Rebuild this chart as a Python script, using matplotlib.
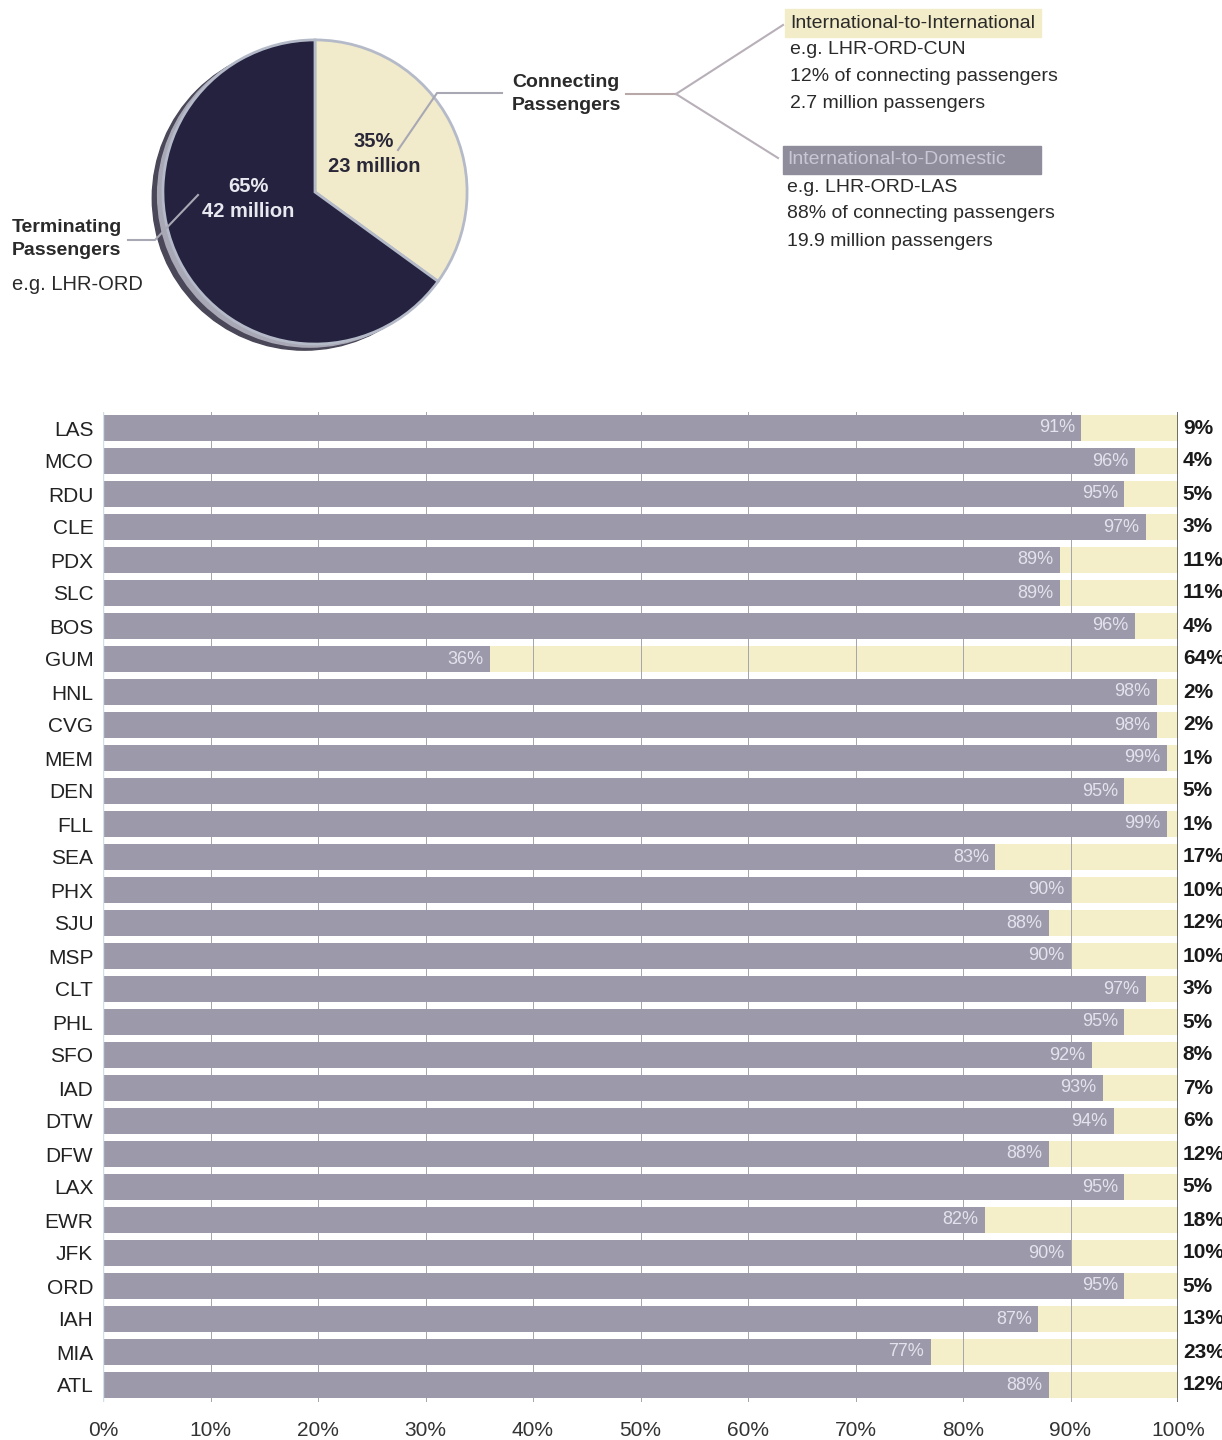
import matplotlib
matplotlib.use("Agg")
import matplotlib.pyplot as plt
from matplotlib import font_manager
from matplotlib.patches import Circle, Rectangle
import numpy as np

# ---- data ----
airports = ["LAS", "MCO", "RDU", "CLE", "PDX", "SLC", "BOS", "GUM", "HNL", "CVG",
            "MEM", "DEN", "FLL", "SEA", "PHX", "SJU", "MSP", "CLT", "PHL", "SFO",
            "IAD", "DTW", "DFW", "LAX", "EWR", "JFK", "ORD", "IAH", "MIA", "ATL"]
intl_to_dom = [91, 96, 95, 97, 89, 89, 96, 36, 98, 98,
               99, 95, 99, 83, 90, 88, 90, 97, 95, 92,
               93, 94, 88, 95, 82, 90, 95, 87, 77, 88]
intl_to_intl = [9, 4, 5, 3, 11, 11, 4, 64, 2, 2,
                1, 5, 1, 17, 10, 12, 10, 3, 5, 8,
                7, 6, 12, 5, 18, 10, 5, 13, 23, 12]
xticks = [0, 10, 20, 30, 40, 50, 60, 70, 80, 90, 100]

pie_values = [35, 65]          # connecting, terminating
pie_labels = ["35%\n23 million", "65%\n42 million"]

intl_lines = ["e.g. LHR-ORD-CUN", "12% of connecting passengers", "2.7 million passengers"]
dom_lines = ["e.g. LHR-ORD-LAS", "88% of connecting passengers", "19.9 million passengers"]

GRAY = "#9c99aa"
BEIGE = "#f4eec9"
NAVY = "#24223f"
PIE_BEIGE = "#f2ebcb"
INK = "#2a2a2a"

names = {f.name for f in font_manager.fontManager.ttflist}
FONT = "Liberation Sans Narrow" if "Liberation Sans Narrow" in names else "Liberation Sans"
plt.rcParams["font.family"] = [FONT, "DejaVu Sans"]

W, H = 1222, 1440
fig = plt.figure(figsize=(W / 100, H / 100), dpi=100)
fig.patch.set_facecolor("white")

def frac(x0, y0, w, h):
    return [x0 / W, 1 - (y0 + h) / H, w / W, h / H]

# ---- bar chart ----
ax = fig.add_axes(frac(103, 411.5, 1075, 990))
y = np.arange(len(airports))
ax.barh(y, intl_to_intl, left=intl_to_dom, height=0.8, color=BEIGE, zorder=1)
for g in xticks[1:-1]:
    ax.axvline(g, color="#a4a4ac", lw=0.7, zorder=2)
ax.axvline(100, color="#555555", lw=1.2, zorder=4)
ax.axvline(0, color="#cfe0ea", lw=1.0, zorder=4)
ax.barh(y, intl_to_dom, height=0.8, color=GRAY, zorder=3)
for i, (a, b) in enumerate(zip(intl_to_dom, intl_to_intl)):
    ax.text(a - 0.6, i, f"{a}%", ha="right", va="center", color="#e4e2ee",
            fontsize=13, zorder=5)
    ax.text(100.45, i, f"{b}%", ha="left", va="center", color="#1a1a1a",
            fontsize=15, fontweight="bold", clip_on=False)
ax.set_xlim(0, 100)
ax.set_ylim(len(airports) - 0.5, -0.5)
ax.set_yticks(y)
ax.set_yticklabels(airports, fontsize=15, color="#222222")
ax.set_xticks(xticks)
ax.set_xticklabels([f"{t}%" for t in xticks], fontsize=15, color="#333333")
ax.tick_params(axis="both", length=0)
ax.tick_params(axis="y", pad=7)
ax.tick_params(axis="x", pad=14)
for s in ax.spines.values():
    s.set_visible(False)

# ---- pie ----
pax = fig.add_axes(frac(150, 27, 330, 330))
pax.add_patch(Circle((-0.07, -0.04), 1.0, color="#4a4858", zorder=0))
pax.add_patch(Circle((-0.035, -0.02), 1.0, color="#a9a8b6", zorder=0))
pax.pie(pie_values, colors=[PIE_BEIGE, NAVY], startangle=90, counterclock=False,
        radius=1.0, wedgeprops=dict(edgecolor="#b5bac8", linewidth=2))
pax.set_xlim(-1.085, 1.085)
pax.set_ylim(-1.085, 1.085)
pax.set_aspect("equal")
pax.axis("off")

# ---- annotations (pixel overlay) ----
ov = fig.add_axes([0, 0, 1, 1])
ov.set_xlim(0, W)
ov.set_ylim(H, 0)
ov.axis("off")
ov.patch.set_alpha(0)

ov.text(374, 154, pie_labels[0], ha="center", va="center", fontsize=14.5,
        fontweight="bold", color="#2a2838", linespacing=1.4)
ov.text(248, 199, pie_labels[1], ha="center", va="center", fontsize=14.5,
        fontweight="bold", color="#e8e8f0", linespacing=1.4)

ov.text(12, 239, "Terminating\nPassengers", ha="left", va="center", fontsize=14,
        fontweight="bold", color=INK, linespacing=1.45)
ov.text(12, 284, "e.g. LHR-ORD", ha="left", va="center", fontsize=14.5, color=INK)
ov.plot([128, 155, 198], [240, 240, 195], color="#a8a8b4", lw=1.5)

ov.text(512, 94, "Connecting\nPassengers", ha="left", va="center", fontsize=14,
        fontweight="bold", color=INK, linespacing=1.45)
ov.plot([398, 437, 502], [150, 93, 93], color="#a8a8b4", lw=1.5)
ov.plot([626, 676], [94, 94], color="#b8a8a8", lw=1.5)
ov.plot([676, 783], [94, 25], color="#b8b0b8", lw=1.5)
ov.plot([676, 778], [94, 158], color="#b8b0b8", lw=1.5)

ov.add_patch(Rectangle((785, 9), 256, 28, color="#f3ecc8", zorder=0))
ov.text(790, 23, "International-to-International", ha="left", va="center",
        fontsize=14, color=INK)
for k, line in enumerate(intl_lines):
    ov.text(790, 50 + 26.7 * k, line, ha="left", va="center", fontsize=14, color=INK)

ov.add_patch(Rectangle((783, 146), 258, 28, color="#8f8c9c", zorder=0))
ov.text(787, 160, "International-to-Domestic", ha="left", va="center",
        fontsize=14, color="#c9c6d6")
for k, line in enumerate(dom_lines):
    ov.text(787, 187 + 27 * k, line, ha="left", va="center", fontsize=14, color=INK)

fig.savefig("out.png", dpi=100, facecolor="white")
